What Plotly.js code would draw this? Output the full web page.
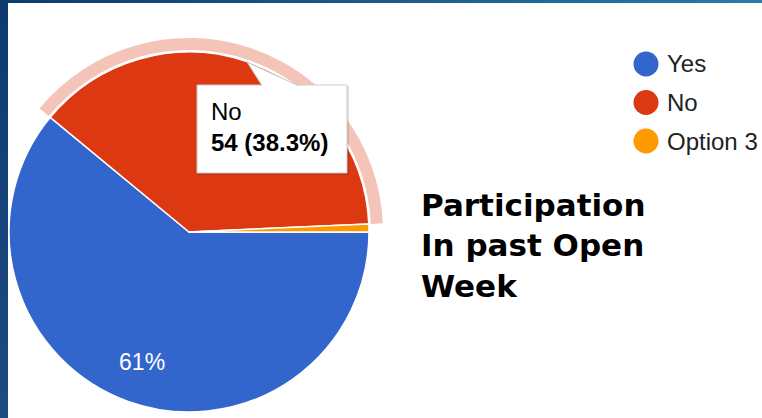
<!DOCTYPE html>
<html>
<head>
<meta charset="utf-8">
<script src="https://cdn.plot.ly/plotly-3.0.1.min.js"></script>
<style>
  html, body { margin: 0; padding: 0; width: 762px; height: 418px; overflow: hidden; background: #ffffff; position: relative; }
  #chart { position: absolute; left: -40px; top: -40px; width: 842px; height: 498px; }
  #leftbar { position: absolute; left: 0; top: 0; width: 8px; height: 418px; background: linear-gradient(to bottom, #0e3a70, #1e4c82); z-index: 5; }
  #topbar { position: absolute; left: 0; top: 0; width: 762px; height: 3px; background: linear-gradient(to right, #0e3a70, #2a7aaa); z-index: 5; }
</style>
</head>
<body>
<div id="chart"></div>
<div id="leftbar"></div>
<div id="topbar"></div>
<script>
// ---- data ----
const categories = ["Yes", "No", "Option 3"];
const responses = [86, 54, 1];
const chartTitle = "Participation<br>In past Open<br>Week";
const hoveredIndex = 1;

// ---- styles ----
const sliceColors = ["#3366cc", "#dc3912", "#ff9900"];
const ringColor = "#f5c4b8";
const FONT = "Liberation Sans, Arial, sans-serif";

// page-pixel -> paper helpers (div is offset so the donut ring fits its domain)
const OX = 40, OY = 40, W = 842, H = 498;
const px = x => (x + OX) / W;
const py = y => 1 - (y + OY) / H;
const domainFor = (cx, cy, r) => ({ x: [px(cx - r), px(cx + r)], y: [py(cy + r), py(cy - r)] });

const CX = 189, CY = 232, R = 180, RING_OUT = 194, RING_IN = 182;

const total = responses.reduce((a, b) => a + b, 0);
const common = { type: "pie", labels: categories, values: responses, sort: false,
  direction: "clockwise", rotation: 90, hoverinfo: "none", showlegend: false };

const pieTrace = Object.assign({}, common, {
  domain: domainFor(CX, CY, R),
  marker: { colors: sliceColors, line: { color: "#ffffff", width: 1.5 } },
  textinfo: "none"
});

// transparent donut overlay: places the percentage label out towards the rim, like the original
const labelTrace = Object.assign({}, common, {
  domain: domainFor(CX, CY, R),
  hole: 0.54,
  marker: { colors: categories.map(() => "rgba(0,0,0,0)"), line: { width: 0 } },
  textinfo: "percent",
  textposition: categories.map((c, i) => i === 0 ? "inside" : "none"),
  insidetextorientation: "horizontal",
  insidetextfont: { family: FONT, size: 23, color: "#ffffff" }
});

const ringTrace = Object.assign({}, common, {
  hole: RING_IN / RING_OUT,
  domain: domainFor(CX, CY, RING_OUT),
  marker: { colors: categories.map((c, i) => i === hoveredIndex ? ringColor : "rgba(0,0,0,0)"), line: { width: 0 } },
  textinfo: "none"
});

// legend (large circles like the original)
const legendX = 646, legendY0 = 64, legendStep = 38.5, legendR = 12.5;
const shapes = [];
const annotations = [];
categories.forEach((c, i) => {
  const y = legendY0 + i * legendStep;
  shapes.push({ type: "circle", xref: "paper", yref: "paper",
    x0: px(legendX - legendR), x1: px(legendX + legendR), y0: py(y + legendR), y1: py(y - legendR),
    fillcolor: sliceColors[i], line: { width: 0 } });
  annotations.push({ xref: "paper", yref: "paper", x: px(665), y: py(y), xanchor: "left", yanchor: "middle",
    text: c, showarrow: false, font: { family: FONT, size: 24, color: "#222222" } });
});

// tooltip for hovered slice
const pct = (responses[hoveredIndex] / total * 100).toFixed(1);
const tipL = 197, tipT = 85, tipR = 347, tipB = 173;
shapes.push({ type: "rect", xref: "paper", yref: "paper", layer: "above",
  x0: px(tipL + 1), x1: px(tipR + 2), y0: py(tipB + 2), y1: py(tipT + 1),
  fillcolor: "rgba(0,0,0,0.12)", line: { width: 0 } });
shapes.push({ type: "rect", xref: "paper", yref: "paper", layer: "above",
  x0: px(tipL), x1: px(tipR), y0: py(tipB), y1: py(tipT),
  fillcolor: "#ffffff", line: { color: "#cccccc", width: 1 } });
const tri = [[247, 62], [262, 86], [298, 86]];
const P = p => px(p[0]).toFixed(5) + "," + py(p[1]).toFixed(5);
shapes.push({ type: "path", xref: "paper", yref: "paper", layer: "above",
  path: "M" + P(tri[0]) + " L" + P(tri[1]) + " L" + P(tri[2]) + " Z",
  fillcolor: "#ffffff", line: { width: 0 } });
shapes.push({ type: "path", xref: "paper", yref: "paper", layer: "above",
  path: "M" + P([262, 85.5]) + " L" + P(tri[0]) + " L" + P([298, 85.5]),
  fillcolor: "rgba(0,0,0,0)", line: { color: "#c4c4c4", width: 1 } });
annotations.push({ xref: "paper", yref: "paper", x: px(209), y: py(127), xanchor: "left", yanchor: "middle",
  align: "left", showarrow: false,
  text: categories[hoveredIndex] + "<br><b>" + responses[hoveredIndex] + " (" + pct + "%)</b>",
  font: { family: FONT, size: 24, color: "#000000" } });

const layout = {
  width: W, height: H,
  margin: { l: 0, r: 0, t: 0, b: 0 },
  paper_bgcolor: "rgba(0,0,0,0)",
  showlegend: false,
  title: { text: chartTitle, xref: "paper", yref: "paper", x: px(421), y: py(216),
    xanchor: "left", yanchor: "top",
    font: { family: "DejaVu Sans, sans-serif", size: 31, weight: "bold", color: "#000000" } },
  shapes: shapes,
  annotations: annotations
};

Plotly.newPlot("chart", [ringTrace, pieTrace, labelTrace], layout, { displayModeBar: false, staticPlot: true });
</script>
</body>
</html>
